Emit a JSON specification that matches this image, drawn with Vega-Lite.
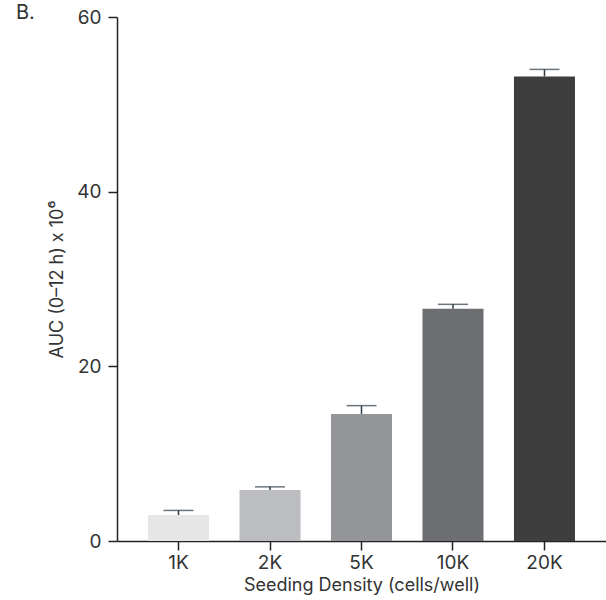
{
  "$schema": "https://vega.github.io/schema/vega-lite/v6.json",
  "width": 489,
  "height": 524,
  "autosize": {"type": "none"},
  "padding": {"left": 117, "top": 17, "right": 0, "bottom": 59},
  "background": "white",
  "title": {"text": "B.", "anchor": "start", "frame": "group", "dx": -101, "dy": 15, "fontSize": 20, "fontWeight": "normal", "font": "Inter", "color": "#333333", "offset": 0},
  "data": {"values": [
    {"density": "1K", "auc": 2.98, "upper": 3.5},
    {"density": "2K", "auc": 5.85, "upper": 6.2},
    {"density": "5K", "auc": 14.55, "upper": 15.5},
    {"density": "10K", "auc": 26.6, "upper": 27.1},
    {"density": "20K", "auc": 53.2, "upper": 54.0}
  ]},
  "config": {
    "view": {"stroke": null},
    "font": "Inter",
    "axis": {"labelFont": "Inter", "titleFont": "Inter", "labelColor": "#333333", "titleColor": "#333333", "domainColor": "#222222", "tickColor": "#222222", "domainWidth": 1.5, "tickWidth": 1.5, "tickSize": 9, "labelFontSize": 19, "titleFontSize": 18, "titleFontWeight": "normal", "grid": false}
  },
  "encoding": {
    "x": {"field": "density", "type": "nominal", "sort": ["1K", "2K", "5K", "10K", "20K"],
      "scale": {"paddingInner": 0.333, "paddingOuter": 0.339},
      "axis": {"title": "Seeding Density (cells/well)", "labelAngle": 0, "labelPadding": 3, "titlePadding": 4}}
  },
  "layer": [
    {
      "mark": {"type": "bar"},
      "encoding": {
        "y": {"field": "auc", "type": "quantitative", "scale": {"domain": [0, 60]},
          "axis": {"title": "AUC (0–12 h) x 10⁶", "values": [0, 20, 40, 60], "labelPadding": 7, "titlePadding": 10}},
        "color": {"field": "density", "type": "nominal", "sort": ["1K", "2K", "5K", "10K", "20K"],
          "scale": {"domain": ["1K", "2K", "5K", "10K", "20K"], "range": ["#e6e6e7", "#bcbdc0", "#939598", "#6d6e71", "#3e3e3e"]},
          "legend": null}
      }
    },
    {
      "mark": {"type": "rule", "color": "#2f3b45", "strokeWidth": 1.5},
      "encoding": {
        "y": {"field": "auc", "type": "quantitative"},
        "y2": {"field": "upper"}
      }
    },
    {
      "mark": {"type": "tick", "color": "#2f3b45", "thickness": 1.5, "size": 30, "orient": "horizontal"},
      "encoding": {
        "y": {"field": "upper", "type": "quantitative"}
      }
    }
  ]
}
